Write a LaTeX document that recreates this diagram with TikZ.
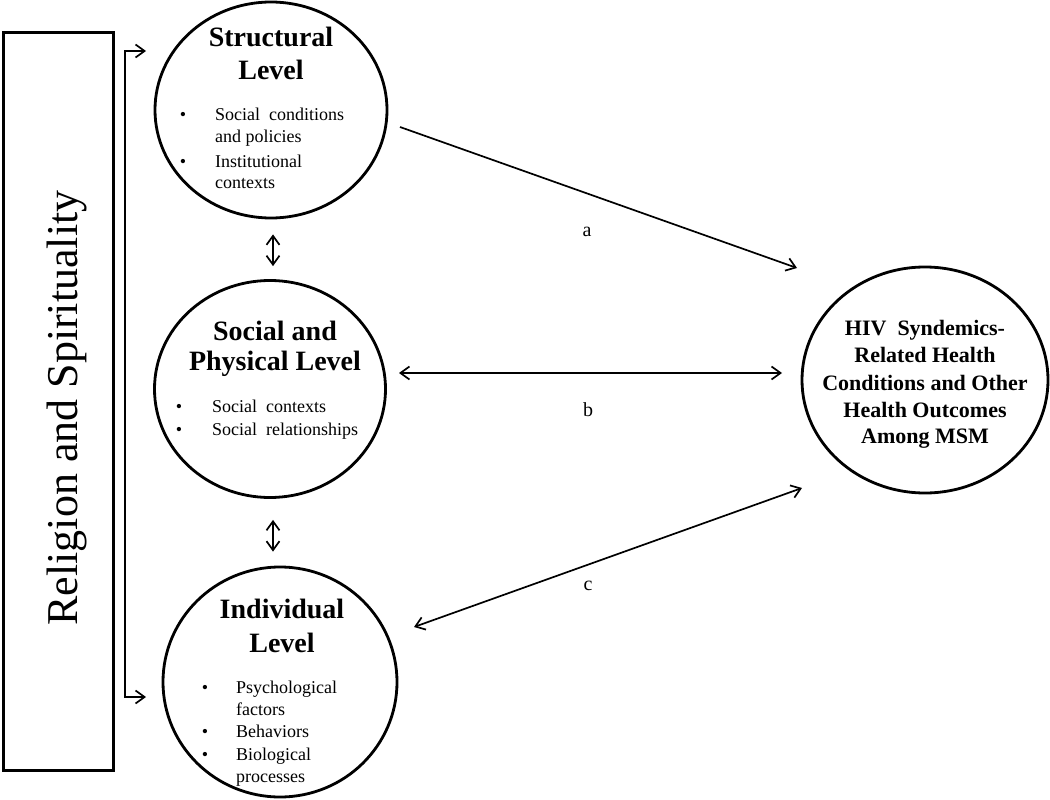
\documentclass[tikz,border=0pt]{standalone}
\usepackage{fontspec}
\setmainfont{Liberation Serif}
\usetikzlibrary{shapes.geometric,arrows.meta}
\tikzset{
  circ/.style={ellipse, draw, line width=2.8pt, inner sep=0pt},
  ttl/.style={anchor=base, font=\fontsize{28}{33}\selectfont\bfseries, inner sep=0pt},
  htxt/.style={anchor=base, font=\fontsize{22}{26}\selectfont\bfseries, inner sep=0pt},
  itm/.style={anchor=base west, font=\fontsize{18}{21}\selectfont, inner sep=0pt},
  bul/.style={anchor=base, font=\fontsize{18}{21}\selectfont, inner sep=0pt},
  lbl/.style={font=\fontsize{20}{24}\selectfont, inner sep=0pt},
  tip/.tip={Straight Barb[length=9pt,width=13pt,line width=1.7pt]},
  conn/.style={line width=1.7pt},
}
\begin{document}
\begin{tikzpicture}[x=1pt,y=-1pt]
\useasboundingbox (0,0) rectangle (1050,800);
% left box
\node[draw, line width=2.8pt, minimum width=110pt, minimum height=738pt, inner sep=0pt] (R) at (58.5,401.5) {};
\node[rotate=90, anchor=base, font=\fontsize{44}{50}\selectfont, inner sep=0pt] (RT) at (77,408) {Religion and Spirituality};
% circles
\node[circ, minimum width=232pt, minimum height=216pt] (S) at (271,110) {};
\node[circ, minimum width=231pt, minimum height=217pt] (P) at (270,389) {};
\node[circ, minimum width=234pt, minimum height=230pt] (I) at (280,682) {};
\node[circ, minimum width=246pt, minimum height=226pt] (H) at (925,380) {};
% Structural texts
\node[ttl] (s1) at (271,47) {Structural};
\node[ttl] (s2) at (271,80) {Level};
\node[bul] (sb1) at (183,121) {•};
\node[bul] (sb2) at (183,167) {•};
\node[itm] (st1) at (215,121) {Social\ \ conditions};
\node[itm] (st2) at (215,142) {and policies};
\node[itm] (st3) at (215,167) {Institutional};
\node[itm] (st4) at (215,188) {contexts};
% Social texts
\node[ttl] (p1) at (275,340) {Social and};
\node[ttl] (p2) at (275,370) {Physical Level};
\node[bul] (pb1) at (179,412) {•};
\node[bul] (pb2) at (179,435) {•};
\node[itm] (pt1) at (212,412) {Social\ \ contexts};
\node[itm] (pt2) at (212,435) {Social\ \ relationships};
% Individual texts
\node[ttl] (i1) at (282,618) {Individual};
\node[ttl] (i2) at (282,652) {Level};
\node[bul] (ib1) at (205,693) {•};
\node[bul] (ib2) at (205,737) {•};
\node[bul] (ib3) at (205,760) {•};
\node[itm] (it1) at (236,693) {Psychological};
\node[itm] (it2) at (236,715) {factors};
\node[itm] (it3) at (236,737) {Behaviors};
\node[itm] (it4) at (236,760) {Biological};
\node[itm] (it5) at (236,782) {processes};
% HIV texts
\node[htxt] (h1) at (925,335) {HIV\ \ Syndemics-};
\node[htxt] (h2) at (925,362) {Related Health};
\node[htxt] (h3) at (925,390) {Conditions and Other};
\node[htxt] (h4) at (925,417) {Health Outcomes};
\node[htxt] (h5) at (925,443) {Among MSM};
% labels
\node[lbl] (la) at (587,232) {a};
\node[lbl] (lb) at (588,410) {b};
\node[lbl] (lc) at (588,586) {c};
% bracket
\coordinate (rt) at (146,51);
\coordinate (rb) at (146,697);
\coordinate (k1) at (125,51);
\coordinate (k2) at (125,697);
\draw[conn, tip-tip] (rt) -- (k1) -- (k2) -- (rb);
% connectors
\draw[conn, -tip] ([shift={(129,17)}]S.center) -- ([shift={(-128,-112)}]H.center);
\draw[conn, tip-tip] ([shift={(129,-16)}]P.center) -- ([shift={(-143,-7)}]H.center);
\draw[conn, tip-tip] ([shift={(134,-55)}]I.center) -- ([shift={(-123,108)}]H.center);
\draw[conn, tip-tip] ([shift={(2,15)}]S.south) -- ([shift={(3,-13)}]P.north);
\draw[conn, tip-tip] ([shift={(3,21)}]P.south) -- ([shift={(-7,-14)}]I.north);
\end{tikzpicture}
\end{document}
